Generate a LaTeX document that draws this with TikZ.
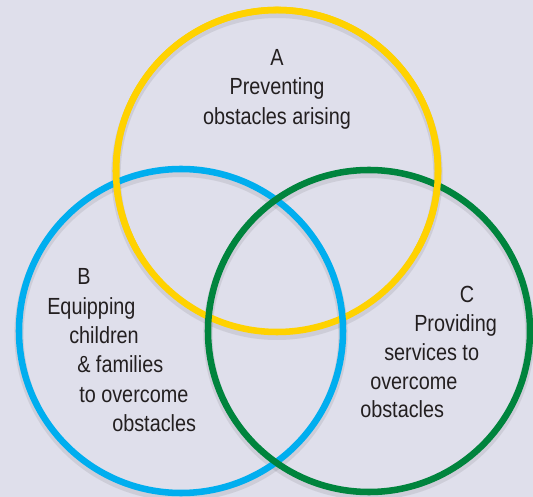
\documentclass[tikz,border=0pt]{standalone}
\usepackage{fontspec}
\setmainfont{Liberation Sans}[FakeStretch=0.85]
\definecolor{bgcol}{RGB}{223,223,235}
\definecolor{ringyellow}{RGB}{255,210,0}
\definecolor{ringblue}{RGB}{0,174,239}
\definecolor{ringgreen}{RGB}{0,132,61}
\definecolor{textcol}{RGB}{35,31,32}
\tikzset{
  ring/.style={line width=4.9pt},
  ringshadow/.style={line width=7pt, black, opacity=0.08},
  lbl/.style={font=\fontsize{17.5}{21}\selectfont, text=textcol, inner sep=0pt}
}
\begin{document}
\begin{tikzpicture}[x=0.75pt, y=0.75pt]
% Page and background
\useasboundingbox (0,0) rectangle (533,497);
\clip (0,0) rectangle (533,497);
\fill[bgcol] (0,0) rectangle (533,497);

% Ring centres
\coordinate (ca) at (277,326);
\coordinate (cb) at (181,166);
\coordinate (cc) at (369,166);

% Soft shadows under the rings
\draw[ringshadow] ([yshift=-2.5]ca) circle (161);
\draw[ringshadow] ([yshift=-2.5]cb) circle (162);
\draw[ringshadow] ([yshift=-2.5]cc) circle (161);

% The three rings (yellow passes over at the top, under at the bottom)
\draw[ring, ringyellow] (ca) circle (161);
\draw[ring, ringblue] (cb) circle (162);
\draw[ring, ringgreen] (cc) circle (161);
\draw[ring, ringyellow] ([shift={(-30:161)}]ca) arc (-30:210:161);

% Ring A
\node[lbl, anchor=base] (atitle) at (277,431) {A};
\node[lbl, anchor=base] (aline1) at (277,402) {Preventing};
\node[lbl, anchor=base] (aline2) at (277,372) {obstacles arising};

% Ring B
\node[lbl, anchor=base] (btitle) at (84,212) {B};
\node[lbl, anchor=base west] (bline1) at (47,182) {Equipping};
\node[lbl, anchor=base west] (bline2) at (69,153) {children};
\node[lbl, anchor=base west] (bline3) at (77,124) {\& families};
\node[lbl, anchor=base west] (bline4) at (79,94) {to overcome};
\node[lbl, anchor=base west] (bline5) at (112,65) {obstacles};

% Ring C
\node[lbl, anchor=base] (ctitle) at (467,194) {C};
\node[lbl, anchor=base west] (cline1) at (414,165) {Providing};
\node[lbl, anchor=base west] (cline2) at (384,136) {services to};
\node[lbl, anchor=base west] (cline3) at (370,107) {overcome};
\node[lbl, anchor=base west] (cline4) at (360,79) {obstacles};
\end{tikzpicture}
\end{document}
